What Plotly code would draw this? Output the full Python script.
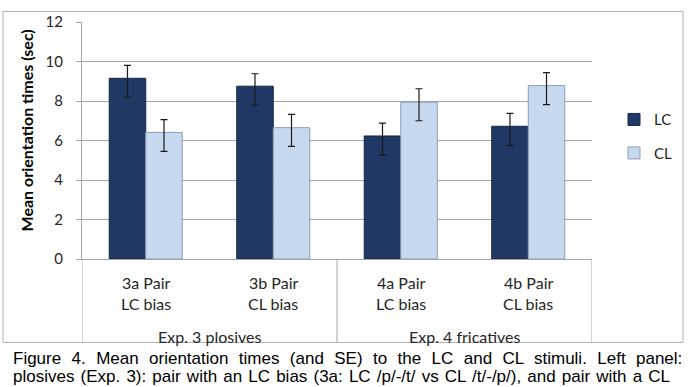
import plotly.graph_objects as go

# ---- data ----
categories = ["3a", "3b", "4a", "4b"]
pair_labels = ["3a Pair", "3b Pair", "4a Pair", "4b Pair"]
bias_labels = ["LC bias", "CL bias", "LC bias", "CL bias"]
group_labels = ["Exp. 3 plosives", "Exp. 4 fricatives"]
group_centers = [0.5, 2.5]
group_edges = [-0.5, 1.5, 3.5]

lc_values = [9.15, 8.75, 6.23, 6.72]
lc_err_plus = [0.65, 0.63, 0.65, 0.65]
lc_err_minus = [0.97, 0.96, 0.97, 0.98]

cl_values = [6.41, 6.65, 7.94, 8.78]
cl_err_plus = [0.65, 0.67, 0.68, 0.66]
cl_err_minus = [0.96, 0.95, 0.94, 0.96]

y_ticks = [0, 2, 4, 6, 8, 10, 12]

caption_lines = [
    "Figure 4. Mean orientation times (and SE) to the LC and CL stimuli. Left panel:",
    "plosives (Exp. 3): pair with an LC bias (3a: LC /p/-/t/ vs CL /t/-/p/), and pair with a CL",
]

# ---- style ----
W, H = 693, 387
ML, MR, MT, MB = 82, 101, 12, 128
PW = W - ML - MR
PH = H - MT - MB
LBL_FONT = "Lato, 'Open Sans', sans-serif"
GRID = "#a6a6a6"


def py(pix):
    return (H - MB - pix) / PH


def px(pix):
    return (pix - ML) / PW


fig = go.Figure()
fig.add_trace(go.Bar(
    name="LC", x=categories, y=lc_values,
    marker=dict(color="#1f3864", line=dict(color="#17294a", width=1)),
    error_y=dict(type="data", symmetric=False, array=lc_err_plus,
                 arrayminus=lc_err_minus, color="#1a1a1a", thickness=1.2, width=3.5),
    legendgroup="a",
))
fig.add_trace(go.Bar(
    name="CL", x=categories, y=cl_values,
    marker=dict(color="#c6d9f1", line=dict(color="#8f9db0", width=1)),
    error_y=dict(type="data", symmetric=False, array=cl_err_plus,
                 arrayminus=cl_err_minus, color="#1a1a1a", thickness=1.2, width=3.5),
    legendgroup="b",
))

annotations = []
for i, (p, b) in enumerate(zip(pair_labels, bias_labels)):
    annotations.append(dict(x=categories[i], y=py(283), xref="x", yref="paper",
                            text=p, showarrow=False, yanchor="middle",
                            font=dict(family=LBL_FONT, size=16, color="#262626")))
    annotations.append(dict(x=categories[i], y=py(305), xref="x", yref="paper",
                            text=b, showarrow=False, yanchor="middle",
                            font=dict(family=LBL_FONT, size=16, color="#262626")))
for g, c in zip(group_labels, group_centers):
    annotations.append(dict(x=c, y=py(340), xref="x", yref="paper", text=g,
                            showarrow=False, yanchor="middle",
                            font=dict(family=LBL_FONT, size=16, color="#262626")))

annotations.append(dict(x=px(26), y=py(125), xref="paper", yref="paper",
                        text="<b>Mean orientation times (sec)</b>", textangle=-90,
                        showarrow=False, xanchor="center", yanchor="middle",
                        font=dict(family=LBL_FONT, size=16, color="#000000")))

cap_gaps = ["\u2004", "\u200a"]
cap_y = [363, 381]
for line, gap, yy in zip(caption_lines, cap_gaps, cap_y):
    annotations.append(dict(x=px(11), y=py(yy), xref="paper", yref="paper",
                            text=line.replace(" ", " " + gap), showarrow=False,
                            xanchor="left", yanchor="middle",
                            font=dict(family="'Liberation Sans', Arial, sans-serif",
                                      size=17, color="#000000")))

shapes = [dict(type="rect", xref="paper", yref="paper",
               x0=px(3), x1=px(683), y0=py(346), y1=py(1),
               line=dict(color="#b3b3b3", width=1), layer="below")]
for e in group_edges:
    shapes.append(dict(type="line", xref="x", yref="paper", x0=e, x1=e,
                       y0=0, y1=py(346), line=dict(color=GRID, width=1)))

fig.update_layout(
    width=W, height=H,
    margin=dict(l=ML, r=MR, t=MT, b=MB, pad=0),
    paper_bgcolor="white", plot_bgcolor="white",
    barmode="group", bargap=0.427, bargroupgap=0,
    showlegend=True,
    legend=dict(x=px(614), y=py(131), xanchor="left", yanchor="middle",
                font=dict(family=LBL_FONT, size=15, color="#262626"),
                tracegroupgap=11, bgcolor="rgba(0,0,0,0)"),
    annotations=annotations,
    shapes=shapes,
    xaxis=dict(type="category", categoryorder="array", categoryarray=categories,
               showticklabels=False, ticks="", showline=True, linecolor=GRID,
               linewidth=1, showgrid=False, zeroline=False,
               range=[-0.5, 3.5]),
    yaxis=dict(range=[0, 12], tickvals=y_ticks, ticks="outside", ticklen=5,
               tickcolor=GRID, showline=True, linecolor=GRID, linewidth=1,
               showgrid=True, gridcolor=GRID, gridwidth=1, zeroline=False,
               ticklabelstandoff=10,
               tickfont=dict(family=LBL_FONT, size=15, color="#262626")),
)

fig.write_html("out.html")
